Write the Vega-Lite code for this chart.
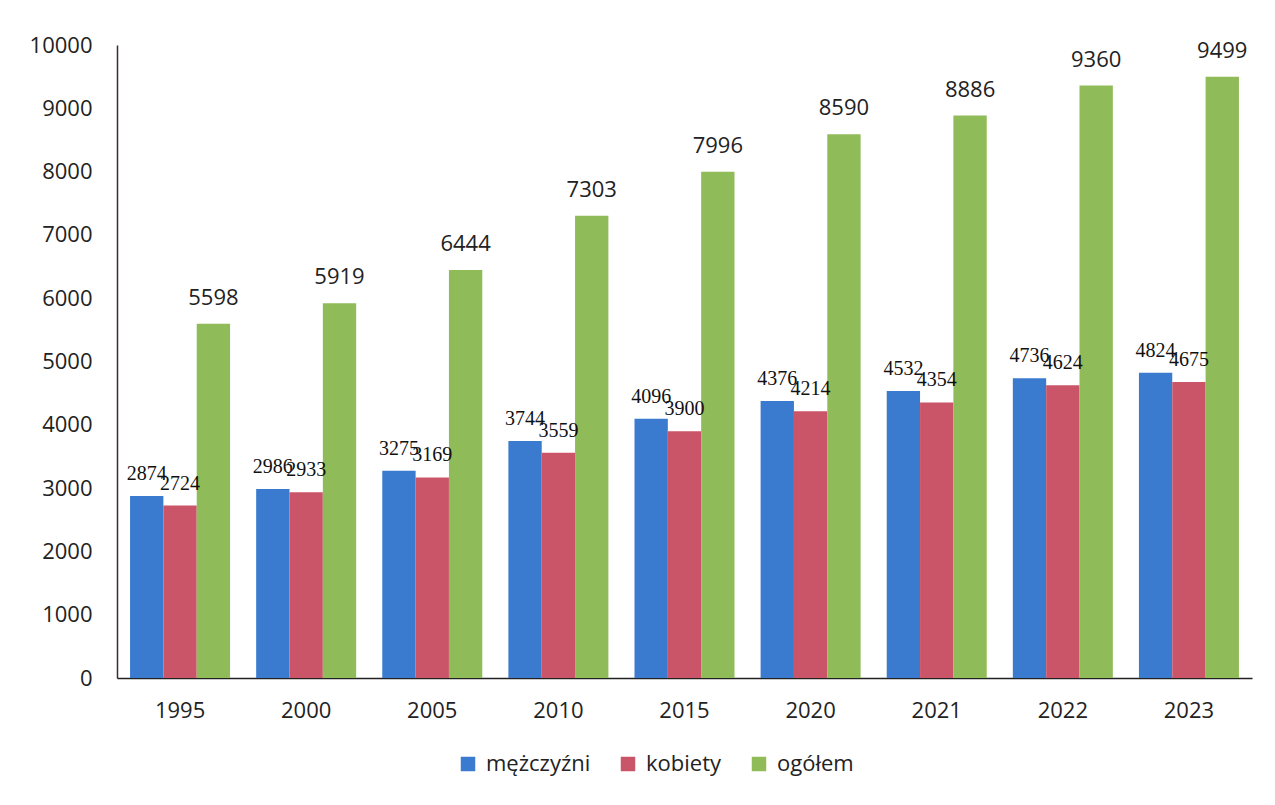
{
  "$schema": "https://vega.github.io/schema/vega-lite/v6.json",
  "width": 1135,
  "height": 633,
  "autosize": {"type": "none"},
  "padding": {"left": 117, "top": 45, "right": 23, "bottom": 127},
  "background": "white",
  "config": {"view": {"stroke": null}, "font": "Open Sans"},
  "data": {
    "values": [
      {"rok": "1995", "seria": "mężczyźni", "wartosc": 2874},
      {"rok": "1995", "seria": "kobiety", "wartosc": 2724},
      {"rok": "1995", "seria": "ogółem", "wartosc": 5598},
      {"rok": "2000", "seria": "mężczyźni", "wartosc": 2986},
      {"rok": "2000", "seria": "kobiety", "wartosc": 2933},
      {"rok": "2000", "seria": "ogółem", "wartosc": 5919},
      {"rok": "2005", "seria": "mężczyźni", "wartosc": 3275},
      {"rok": "2005", "seria": "kobiety", "wartosc": 3169},
      {"rok": "2005", "seria": "ogółem", "wartosc": 6444},
      {"rok": "2010", "seria": "mężczyźni", "wartosc": 3744},
      {"rok": "2010", "seria": "kobiety", "wartosc": 3559},
      {"rok": "2010", "seria": "ogółem", "wartosc": 7303},
      {"rok": "2015", "seria": "mężczyźni", "wartosc": 4096},
      {"rok": "2015", "seria": "kobiety", "wartosc": 3900},
      {"rok": "2015", "seria": "ogółem", "wartosc": 7996},
      {"rok": "2020", "seria": "mężczyźni", "wartosc": 4376},
      {"rok": "2020", "seria": "kobiety", "wartosc": 4214},
      {"rok": "2020", "seria": "ogółem", "wartosc": 8590},
      {"rok": "2021", "seria": "mężczyźni", "wartosc": 4532},
      {"rok": "2021", "seria": "kobiety", "wartosc": 4354},
      {"rok": "2021", "seria": "ogółem", "wartosc": 8886},
      {"rok": "2022", "seria": "mężczyźni", "wartosc": 4736},
      {"rok": "2022", "seria": "kobiety", "wartosc": 4624},
      {"rok": "2022", "seria": "ogółem", "wartosc": 9360},
      {"rok": "2023", "seria": "mężczyźni", "wartosc": 4824},
      {"rok": "2023", "seria": "kobiety", "wartosc": 4675},
      {"rok": "2023", "seria": "ogółem", "wartosc": 9499}
    ]
  },
  "encoding": {
    "x": {
      "field": "rok", "type": "nominal", "sort": null,
      "scale": {"paddingInner": 0.207, "paddingOuter": 0.1035},
      "axis": {"title": null, "labelAngle": 0, "labelFontSize": 22, "labelColor": "#222222", "labelPadding": 22, "ticks": false, "domainColor": "#222222", "domainWidth": 1.5}
    },
    "xOffset": {"field": "seria", "type": "nominal", "sort": ["mężczyźni", "kobiety", "ogółem"]},
    "y": {
      "field": "wartosc", "type": "quantitative",
      "scale": {"domain": [0, 10000]},
      "axis": {"title": null, "values": [0, 1000, 2000, 3000, 4000, 5000, 6000, 7000, 8000, 9000, 10000], "format": "d", "grid": false, "ticks": false, "labelFontSize": 22, "labelPadding": 25, "labelColor": "#222222", "domainColor": "#3a2a3a", "domainWidth": 1.5}
    }
  },
  "layer": [
    {
      "mark": {"type": "bar"},
      "encoding": {
        "color": {
          "field": "seria", "type": "nominal",
          "sort": ["mężczyźni", "kobiety", "ogółem"],
          "scale": {"domain": ["mężczyźni", "kobiety", "ogółem"], "range": ["#3a7bd0", "#cb5568", "#8fbb58"]},
          "legend": {"title": null, "orient": "none", "legendX": 340, "legendY": 708, "direction": "horizontal", "symbolType": "square", "symbolSize": 210, "symbolStrokeWidth": 0, "labelFontSize": 22, "labelColor": "#222222", "labelOffset": 7, "columnPadding": 26}
        }
      }
    },
    {
      "transform": [{"filter": "datum.seria !== 'ogółem'"}],
      "mark": {"type": "text", "font": "Liberation Serif", "fontSize": 20, "dy": -16, "baseline": "alphabetic", "color": "#111111"},
      "encoding": {"text": {"field": "wartosc", "type": "quantitative", "format": "d"}}
    },
    {
      "transform": [{"filter": "datum.seria === 'ogółem'"}],
      "mark": {"type": "text", "fontSize": 22, "dy": -19, "baseline": "alphabetic", "color": "#222222"},
      "encoding": {"text": {"field": "wartosc", "type": "quantitative", "format": "d"}}
    }
  ]
}
